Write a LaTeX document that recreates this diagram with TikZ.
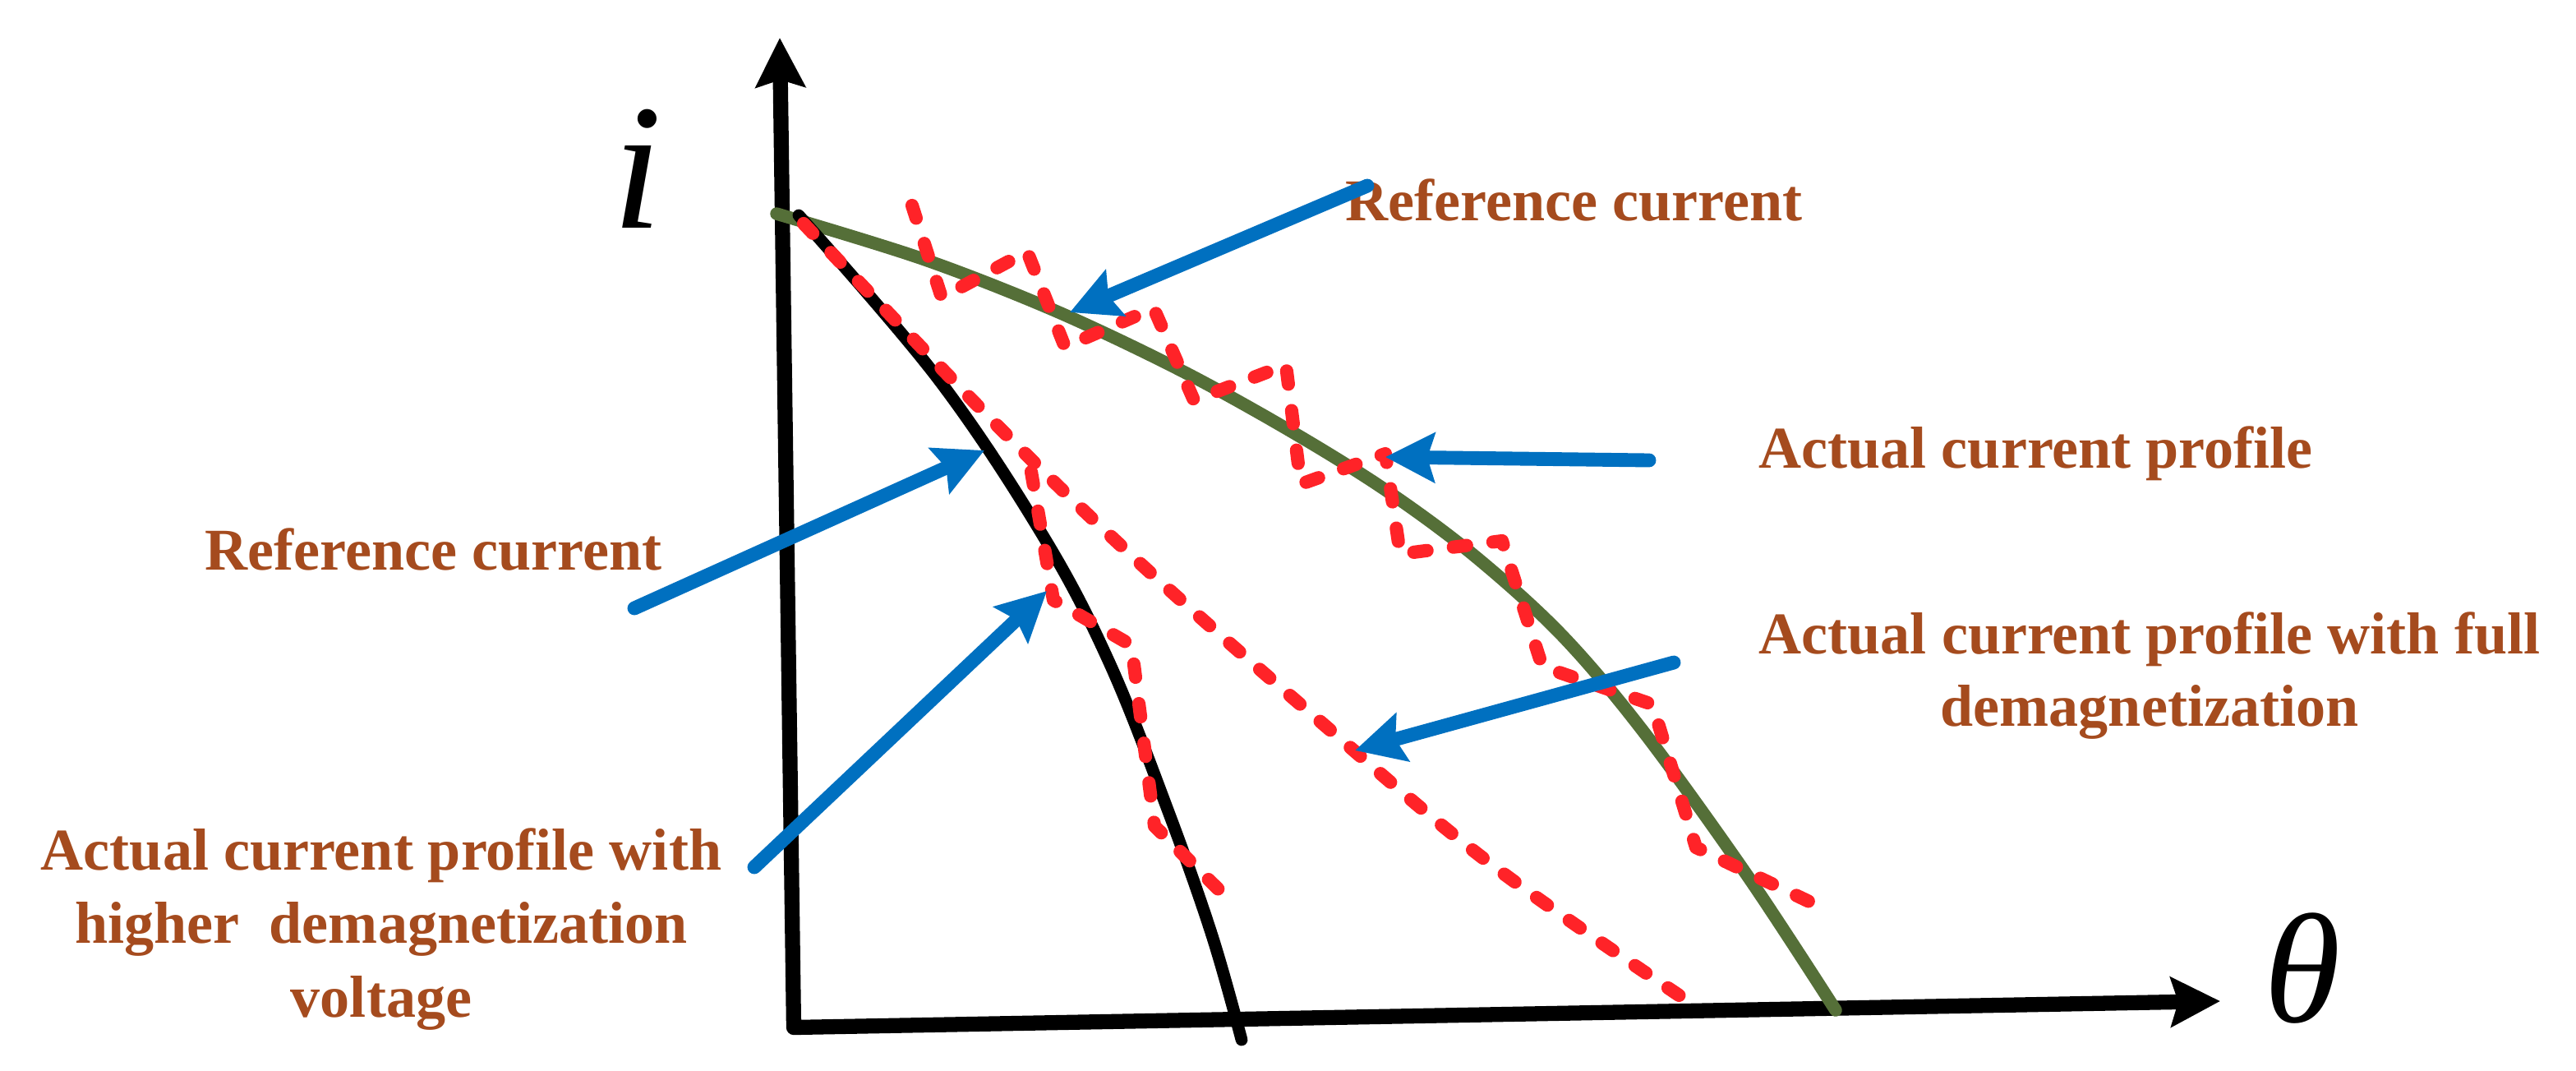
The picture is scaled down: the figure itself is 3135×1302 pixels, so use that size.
\documentclass[tikz,border=0pt]{standalone}
\usepackage{fontspec}
\setmainfont{Liberation Serif}
\usetikzlibrary{arrows.meta}
\definecolor{lblbrown}{RGB}{165,75,30}
\definecolor{refgreen}{RGB}{85,111,56}
\definecolor{actred}{RGB}{255,35,40}
\definecolor{callblue}{RGB}{0,112,192}
\begin{document}
\begin{tikzpicture}[x=0.01cm,y=-0.01cm,
  axisline/.style={line width=5.2pt, line join=round,
    {Stealth[length=17pt,width=17pt,inset=2.5pt]}-{Stealth[length=17pt,width=17pt,inset=2.5pt]}},
  blackcurve/.style={line width=4.2pt, black, line cap=round},
  greencurve/.style={line width=4.4pt, refgreen, line cap=round},
  reddash/.style={line width=4.6pt, actred, line cap=round, line join=round,
    dash pattern=on 4.6pt off 9.2pt},
  callout/.style={line width=4.8pt, callblue, line cap=round,
    -{Stealth[length=17pt,width=17pt,inset=2.5pt]}},
  lbl/.style={text=lblbrown, inner sep=0pt,
    font=\fontsize{20.5pt}{24.6pt}\selectfont\bfseries},
  axlbl/.style={inner sep=0pt, font=\itshape}
]
\useasboundingbox (0,0) rectangle (3135,1302);

% axes
\coordinate (ytip) at (949,46);
\coordinate (org) at (966,1250);
\coordinate (xtip) at (2702,1218);
\draw[axisline] (ytip) -- (org) -- (xtip);

\node[axlbl, anchor=base, font=\fontsize{62pt}{62pt}\selectfont\itshape] (ilbl) at (776,277) {i};
\node[axlbl, anchor=base, font=\fontsize{54pt}{54pt}\selectfont\itshape] (thlbl) at (2802,1243) {θ};

% reference current (green)
\draw[greencurve] plot[smooth, tension=0.55] coordinates {
  (945,260) (1123,315) (1284,378) (1436,450) (1570,524) (1686,596)
  (1793,675) (1900,772) (2000,890) (2127,1066) (2234,1229)};

% reference current (black, higher demagnetization)
\draw[blackcurve] plot[smooth, tension=0.6] coordinates {
  (972,262) (1141,460) (1270,653) (1350,806) (1421,985) (1475,1138) (1511,1265)};

% actual current with full demagnetization
\draw[reddash] plot[smooth, tension=0.6] coordinates {
  (978,272) (1206,510) (1386,684) (1600,872) (1814,1051) (2060,1222)};

% actual current profile (zigzag around green)
\draw[reddash] (1110,250) -- (1146,362) -- (1250,306) -- (1296,422) -- (1404,375)
  -- (1453,487) -- (1565,444) -- (1583,589) -- (1686,552) -- (1704,674)
  -- (1828,658) -- (1877,811) -- (2011,857) -- (2064,1031) -- (2225,1108);

% actual current profile with higher demagnetization voltage
\draw[reddash] (1255,574) -- (1282,730) -- (1377,785) -- (1405,1005) -- (1493,1092);

% labels
\node[lbl, anchor=base west] (lref1) at (1637,268) {Reference current};
\node[lbl, anchor=base west] (lact) at (2140,569) {Actual current profile};
\node[lbl, anchor=base west] (lref2) at (249,693) {Reference current};
\node[lbl, anchor=base] (lfull1) at (2616,795) {Actual current profile with full};
\node[lbl, anchor=base] (lfull2) at (2616,883) {demagnetization};
\node[lbl, anchor=base] (lhigh1) at (464,1058) {Actual current profile with};
\node[lbl, anchor=base] (lhigh2) at (464,1147) {higher~ demagnetization};
\node[lbl, anchor=base] (lhigh3) at (464,1237) {voltage};

% callout arrows
\coordinate (c1s) at (1664,226); \coordinate (c1e) at (1302,380);
\coordinate (c2s) at (2007,560); \coordinate (c2e) at (1686,556);
\coordinate (c3s) at (772,740);  \coordinate (c3e) at (1198,548);
\coordinate (c4s) at (2037,806); \coordinate (c4e) at (1649,913);
\coordinate (c5s) at (918,1055); \coordinate (c5e) at (1274,719);
\draw[callout] (c1s) -- (c1e);
\draw[callout] (c2s) -- (c2e);
\draw[callout] (c3s) -- (c3e);
\draw[callout] (c4s) -- (c4e);
\draw[callout] (c5s) -- (c5e);
\end{tikzpicture}
\end{document}
